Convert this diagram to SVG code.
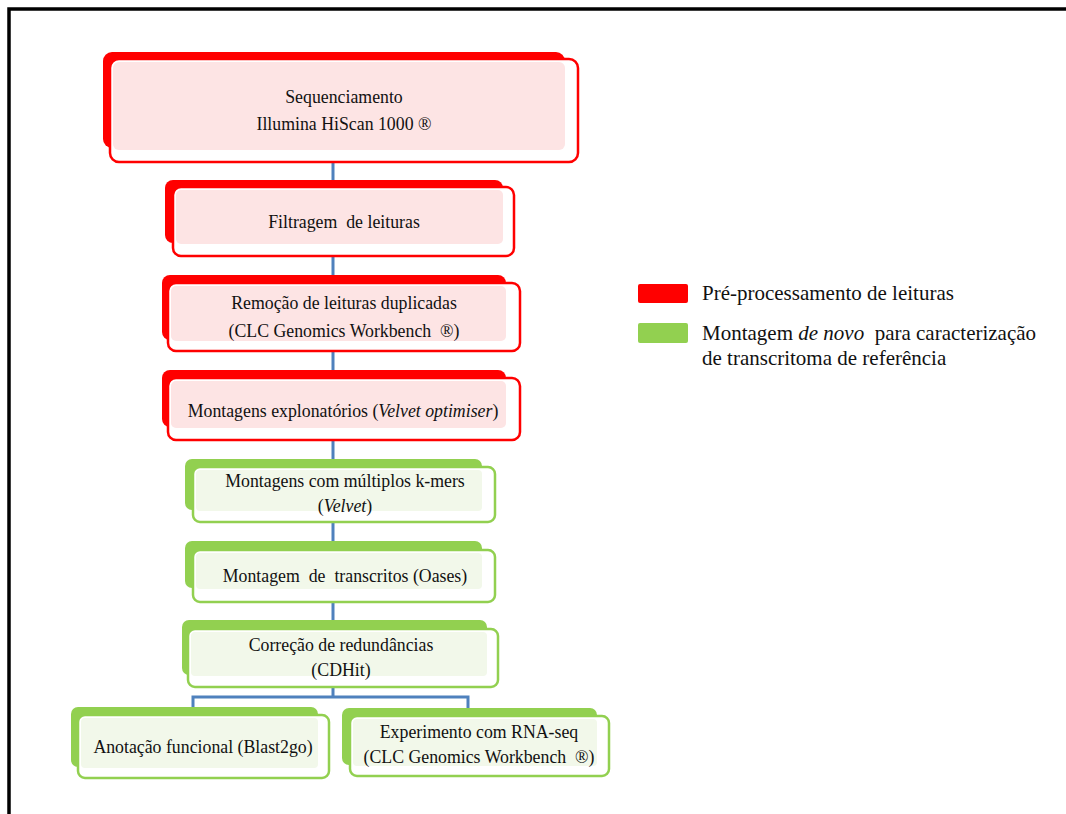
<svg xmlns="http://www.w3.org/2000/svg" width="1066" height="814" viewBox="0 0 1066 814">
<style>
.t{font-family:"Liberation Serif","Times New Roman",serif;font-size:17.8px;fill:#111;text-anchor:middle;white-space:pre}
.l{font-family:"Liberation Serif","Times New Roman",serif;font-size:21px;fill:#111;white-space:pre}
.rb{fill:#ff0000}
.rf{fill:#ffffff;stroke:#ff0000;stroke-width:2.5}
.rp{fill:#fde4e4}
.gb{fill:#92d050}
.gf{fill:#ffffff;stroke:#92d050;stroke-width:2.5}
.gp{fill:#f2f8ea}
.c{stroke:#4f81bd;stroke-width:3;fill:none}
</style>
<rect x="0" y="0" width="1066" height="814" fill="#ffffff"/>
<path d="M9,814 V9 H1066" fill="none" stroke="#000" stroke-width="3.5"/>
<g id="connectors">
<path class="c" d="M333,162 V187 M333,256 V283 M333,351 V378 M333,440 V467 M333,522 V550 M333,602 V629 M333,687 V697 M193,715 V697 H468 V716"/>
</g>
<g id="n1">
<rect class="rb" x="103" y="52" width="462" height="96" rx="9"/>
<rect class="rf" x="110" y="59" width="468" height="103" rx="9"/>
<rect class="rp" x="113" y="62" width="452" height="88" rx="6"/>
<text class="t" x="344" y="103">Sequenciamento</text>
<text class="t" x="344" y="130">Illumina HiScan 1000 ®</text>
</g>
<g id="n2">
<rect class="rb" x="165" y="180" width="338" height="63" rx="8"/>
<rect class="rf" x="173" y="187" width="341" height="69" rx="8"/>
<rect class="rp" x="176" y="190" width="327" height="54" rx="5"/>
<text class="t" x="344" y="228">Filtragem  de leituras</text>
</g>
<g id="n3">
<rect class="rb" x="162" y="275" width="344" height="65" rx="8"/>
<rect class="rf" x="168" y="283" width="352" height="68" rx="8"/>
<rect class="rp" x="171" y="286" width="335" height="55" rx="5"/>
<text class="t" x="344" y="309">Remoção de leituras duplicadas</text>
<text class="t" x="344" y="337">(CLC Genomics Workbench  ®)</text>
</g>
<g id="n4">
<rect class="rb" x="162" y="370" width="344" height="57" rx="8"/>
<rect class="rf" x="168" y="378" width="352" height="62" rx="8"/>
<rect class="rp" x="171" y="381" width="335" height="47" rx="5"/>
<text class="t" x="343" y="417">Montagens explonatórios (<tspan font-style="italic">Velvet optimiser</tspan>)</text>
</g>
<g id="n5">
<rect class="gb" x="185" y="459" width="297" height="51" rx="7"/>
<rect class="gf" x="193" y="467" width="302" height="55" rx="7"/>
<rect class="gp" x="196" y="470" width="286" height="41" rx="4"/>
<text class="t" x="345" y="487">Montagens com múltiplos k-mers</text>
<text class="t" x="345" y="512">(<tspan font-style="italic">Velvet</tspan>)</text>
</g>
<g id="n6">
<rect class="gb" x="185" y="541" width="297" height="47" rx="7"/>
<rect class="gf" x="193" y="550" width="302" height="52" rx="7"/>
<rect class="gp" x="196" y="553" width="286" height="36" rx="4"/>
<text class="t" x="345" y="582">Montagem  de  transcritos (Oases)</text>
</g>
<g id="n7">
<rect class="gb" x="182" y="620" width="305" height="55" rx="7"/>
<rect class="gf" x="188" y="629" width="310" height="58" rx="7"/>
<rect class="gp" x="191" y="632" width="296" height="44" rx="4"/>
<text class="t" x="341" y="651">Correção de redundâncias</text>
<text class="t" x="341" y="676">(CDHit)</text>
</g>
<g id="n8">
<rect class="gb" x="71" y="707" width="247" height="60" rx="7"/>
<rect class="gf" x="78" y="715" width="251" height="63" rx="7"/>
<rect class="gp" x="81" y="718" width="237" height="50" rx="4"/>
<text class="t" x="203" y="753">Anotação funcional (Blast2go)</text>
</g>
<g id="n9">
<rect class="gb" x="342" y="708" width="255" height="57" rx="7"/>
<rect class="gf" x="350" y="716" width="259" height="60" rx="7"/>
<rect class="gp" x="353" y="719" width="244" height="47" rx="4"/>
<text class="t" x="479" y="738">Experimento com RNA-seq</text>
<text class="t" x="479" y="763">(CLC Genomics Workbench  ®)</text>
</g>
<g id="legend">
<rect class="rb" x="638" y="284" width="50" height="19" rx="2"/>
<rect class="gb" x="638" y="323" width="50" height="20" rx="2"/>
<text class="l" x="702" y="300">Pré-processamento de leituras</text>
<text class="l" x="702" y="340">Montagem <tspan font-style="italic">de novo</tspan>  para caracterização</text>
<text class="l" x="702" y="365">de transcritoma de referência</text>
</g>
</svg>
